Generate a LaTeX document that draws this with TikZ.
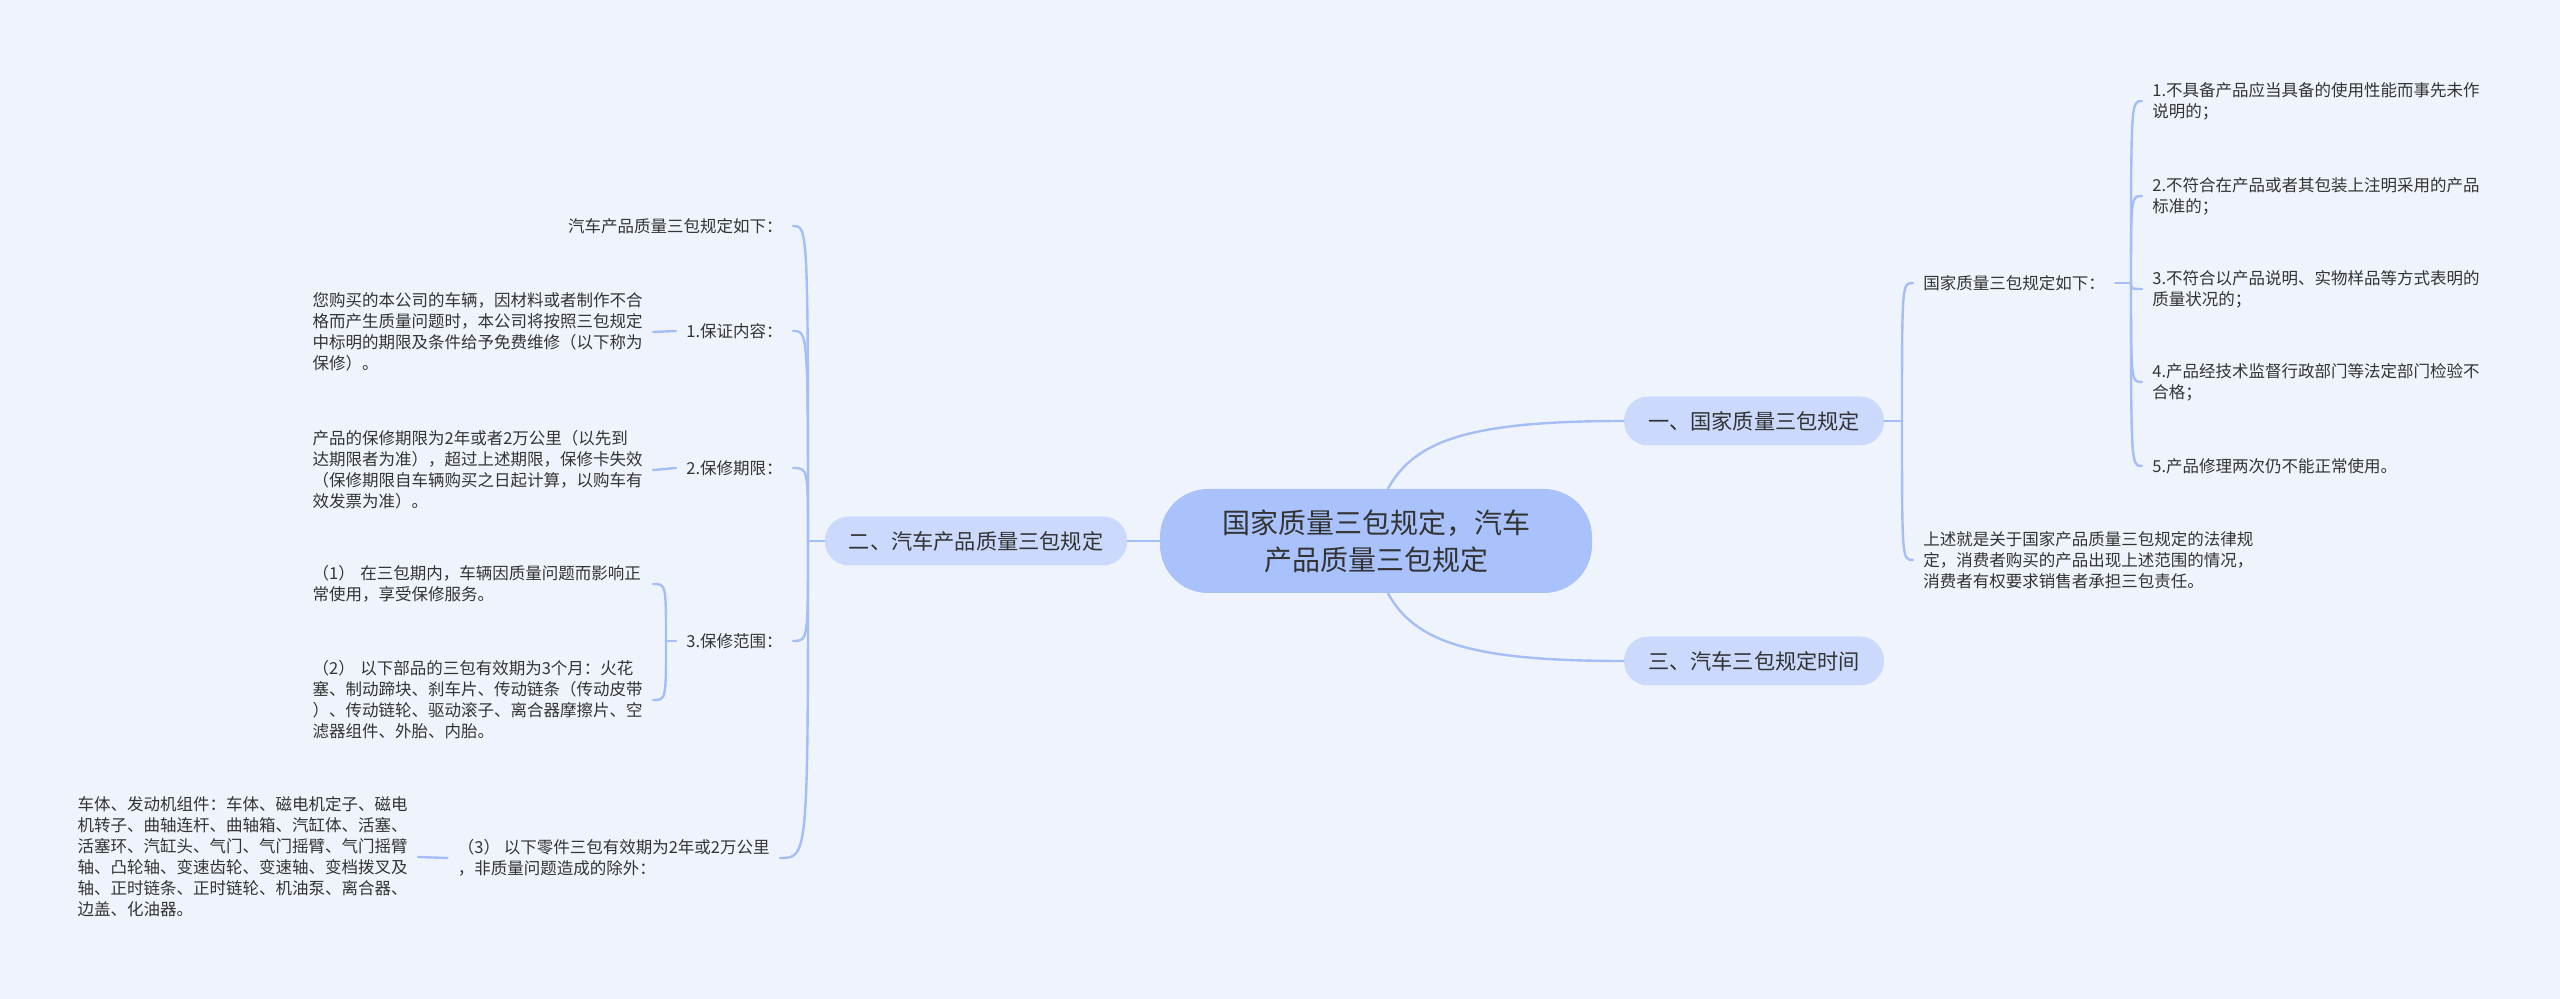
\documentclass[tikz,border=0pt]{standalone}
\usepackage{fontspec}
\setmainfont{Noto Sans CJK SC}
\usepackage{tikz}
\definecolor{paperBlue}{HTML}{EFF4FC}
\definecolor{rootBlue}{HTML}{A9C2FB}
\definecolor{topicBlue}{HTML}{CBDAFC}
\definecolor{linkBlue}{HTML}{A5BEF5}
\definecolor{inkGray}{HTML}{333333}
\newcommand{\bodyfont}{\fontsize{8.25pt}{10.5pt}\selectfont}

\begin{document}
\begin{tikzpicture}[x=0.5pt, y=-0.5pt, line cap=round,
    rootbox/.style={fill=rootBlue, rounded corners=24pt, minimum width=216pt, minimum height=52pt,
        align=center, text=inkGray, font=\fontsize{14pt}{18.5pt}\selectfont},
    topicbox/.style={fill=topicBlue, rounded corners=12pt, minimum height=24.5pt, inner xsep=12pt,
        text=inkGray, font=\fontsize{10.6pt}{13pt}\selectfont},
    leaf/.style={inner xsep=5pt, inner ysep=1pt, align=left, text=inkGray, font=\bodyfont},
    block/.style={leaf, text width=165pt},
    link/.style={draw=linkBlue, line width=1.2pt}]
        \useasboundingbox[fill=paperBlue] (0,0) rectangle (2560,999);

        % centre and main topics
        \node[rootbox] (root) at (1376,541) {国家质量三包规定，汽车\\产品质量三包规定};
        \node[topicbox] (gj) at (1754,421) {一、国家质量三包规定};
        \node[topicbox] (sj) at (1754,661) {三、汽车三包规定时间};
        \node[topicbox] (qc) at (976,541) {二、汽车产品质量三包规定};
        \draw[link] ([xshift=6pt]root.north) .. controls (1415,440) and (1470,421) .. (gj.west);
        \draw[link] ([xshift=6pt]root.south) .. controls (1415,642) and (1470,661) .. (sj.west);
        \draw[link] (root.west) -- (qc.east);

        % right branch
        \coordinate (gjJ) at (1902,421);
        \node[leaf, anchor=west] (gjRule) at (1913,283) {国家质量三包规定如下：};
        \node[leaf, anchor=west] (gjSum) at (1913,560) {上述就是关于国家产品质量三包规定的法律规\\定，消费者购买的产品出现上述范围的情况，\\消费者有权要求销售者承担三包责任。};
        \draw[link] (gj.east) -- (gjJ);
        \foreach \c in {gjRule, gjSum}
            \draw[link] (gjJ) .. controls (gjJ |- \c.west) .. (\c.west);

        \coordinate (ruleJ) at (2131,283);
        \node[leaf, anchor=west] (rule1) at (2142,101) {1.不具备产品应当具备的使用性能而事先未作\\说明的；};
        \node[leaf, anchor=west] (rule2) at (2142,196) {2.不符合在产品或者其包装上注明采用的产品\\标准的；};
        \node[leaf, anchor=west] (rule3) at (2142,289) {3.不符合以产品说明、实物样品等方式表明的\\质量状况的；};
        \node[leaf, anchor=west] (rule4) at (2142,382) {4.产品经技术监督行政部门等法定部门检验不\\合格；};
        \node[leaf, anchor=west] (rule5) at (2142,466) {5.产品修理两次仍不能正常使用。};
        \draw[link] (gjRule.east) -- (ruleJ);
        \foreach \c in {rule1, rule2, rule3, rule4, rule5}
            \draw[link] (ruleJ) .. controls (ruleJ |- \c.west) .. (\c.west);

        % left branch
        \coordinate (qcJ) at (808,541);
        \node[leaf, anchor=east] (qcRule) at (793,226) {汽车产品质量三包规定如下：};
        \node[leaf, anchor=east] (qcContent) at (793,331) {1.保证内容：};
        \node[leaf, anchor=east] (qcPeriod) at (793,468) {2.保修期限：};
        \node[leaf, anchor=east] (qcScope) at (793,641) {3.保修范围：};
        \node[leaf, anchor=east] (qcParts) at (780,858) {（3） 以下零件三包有效期为2年或2万公里\\，非质量问题造成的除外：};
        \draw[link] (qc.west) -- (qcJ);
        \foreach \c in {qcRule, qcContent, qcPeriod, qcScope, qcParts}
            \draw[link] (qcJ) .. controls (qcJ |- \c.east) .. (\c.east);

        \node[block, anchor=east] (contentTxt) at (653,332) {您购买的本公司的车辆，因材料或者制作不合\\格而产生质量问题时，本公司将按照三包规定\\中标明的期限及条件给予免费维修（以下称为\\保修）。};
        \node[block, anchor=east] (periodTxt) at (653,470) {产品的保修期限为2年或者2万公里（以先到\\达期限者为准），超过上述期限，保修卡失效\\（保修期限自车辆购买之日起计算，以购车有\\效发票为准）。};
        \draw[link] (contentTxt.east) -- (qcContent.west);
        \draw[link] (periodTxt.east) -- (qcPeriod.west);

        \coordinate (scopeJ) at (666,641);
        \node[block, anchor=east] (scope1) at (653,584) {（1） 在三包期内，车辆因质量问题而影响正\\常使用，享受保修服务。};
        \node[block, anchor=east] (scope2) at (653,700) {（2） 以下部品的三包有效期为3个月：火花\\塞、制动蹄块、刹车片、传动链条（传动皮带\\）、传动链轮、驱动滚子、离合器摩擦片、空\\滤器组件、外胎、内胎。};
        \draw[link] (qcScope.west) -- (scopeJ);
        \foreach \c in {scope1, scope2}
            \draw[link] (scopeJ) .. controls (scopeJ |- \c.east) .. (\c.east);

        \node[block, anchor=east] (partsTxt) at (418,857) {车体、发动机组件：车体、磁电机定子、磁电\\机转子、曲轴连杆、曲轴箱、汽缸体、活塞、\\活塞环、汽缸头、气门、气门摇臂、气门摇臂\\轴、凸轮轴、变速齿轮、变速轴、变档拨叉及\\轴、正时链条、正时链轮、机油泵、离合器、\\边盖、化油器。};
        \draw[link] (partsTxt.east) -- (qcParts.west);
    \end{tikzpicture}
\end{document}
